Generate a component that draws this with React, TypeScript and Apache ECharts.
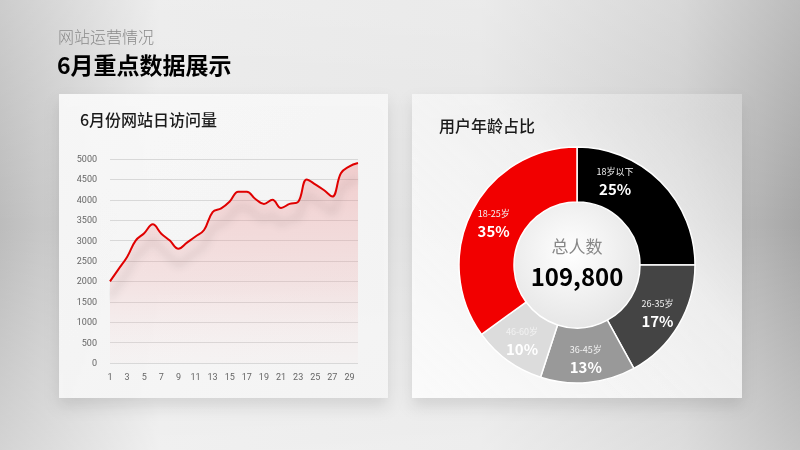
import React, { useEffect, useRef } from "react";
import * as echarts from "echarts";

const days = Array.from({ length: 30 }, (_, i) => String(i + 1));
const visits = [2000, 2300, 2600, 3000, 3180, 3400, 3170, 3000, 2800, 2950, 3100, 3260, 3700, 3790, 3960, 4200, 4200, 4020, 3900, 4000, 3800, 3900, 3950, 4500, 4380, 4240, 4080, 4650, 4820, 4900];
const yTicks = [0, 500, 1000, 1500, 2000, 2500, 3000, 3500, 4000, 4500, 5000];
const ageNames = ["18岁以下", "26-35岁", "36-45岁", "46-60岁", "18-25岁"];
const agePercents = [25, 17, 13, 10, 35];
const ageColors = ["#000000", "#444444", "#999999", "#dcdcdc", "#f20000"];
const totalUsers = "109,800";

const FONT = "'Noto Sans CJK SC', 'Noto Sans', sans-serif";

export default function App() {
  const ref = useRef<HTMLDivElement>(null);
  useEffect(() => {
    document.body.style.margin = "0";
    const chart = echarts.init(ref.current!, null, { renderer: "svg" });
    const option: any = {
      animation: false,
      textStyle: { fontFamily: FONT },
      graphic: [
        {
          type: "rect", z: -20, silent: true,
          shape: { x: 0, y: 0, width: 800, height: 450 },
          style: {
            fill: new echarts.graphic.LinearGradient(0, 0, 1, 0, [
              { offset: 0, color: "#bcbcbc" },
              { offset: 0.2, color: "#e8e8e8" },
              { offset: 0.6, color: "#e4e4e4" },
              { offset: 0.85, color: "#cbcbcb" },
              { offset: 1, color: "#a6a6a6" },
            ]),
          },
        },
        {
          type: "rect", z: -19, silent: true,
          shape: { x: 0, y: 0, width: 800, height: 450 },
          style: {
            fill: new echarts.graphic.LinearGradient(0, 0, 0, 1, [
              { offset: 0, color: "rgba(255,255,255,0.25)" },
              { offset: 0.5, color: "rgba(255,255,255,0)" },
              { offset: 1, color: "rgba(255,255,255,0.35)" },
            ]),
          },
        },
        {
          type: "rect", z: -10, silent: true,
          shape: { x: 59, y: 94, width: 329, height: 304 },
          style: {
            fill: new echarts.graphic.LinearGradient(0, 0, 1, 1, [
              { offset: 0, color: "rgba(250,250,250,0.92)" },
              { offset: 1, color: "rgba(245,245,245,0.92)" },
            ]),
            shadowBlur: 16, shadowOffsetY: 8, shadowColor: "rgba(0,0,0,0.12)",
          },
        },
        {
          type: "rect", z: -10, silent: true,
          shape: { x: 412, y: 94, width: 330, height: 304 },
          style: {
            fill: new echarts.graphic.LinearGradient(0, 1, 1, 0, [
              { offset: 0, color: "rgba(252,252,252,0.95)" },
              { offset: 0.6, color: "rgba(245,245,245,0.85)" },
              { offset: 1, color: "rgba(220,220,220,0.6)" },
            ]),
            shadowBlur: 16, shadowOffsetY: 8, shadowColor: "rgba(0,0,0,0.12)",
          },
        },
        {
          type: "circle", z: 1, silent: true,
          shape: { cx: 577, cy: 265, r: 63 },
          style: {
            fill: new echarts.graphic.RadialGradient(0.45, 0.4, 0.7, [
              { offset: 0, color: "#ffffff" },
              { offset: 1, color: "#e2e2e2" },
            ]),
          },
        },
        {
          type: "text", x: 58, y: 36,
          style: { text: "网站运营情况", font: `300 16px ${FONT}`, fill: "#8a8a8a", verticalAlign: "middle" },
        },
        {
          type: "text", x: 57, y: 64,
          style: { text: "6月重点数据展示", font: `bold 23px ${FONT}`, fill: "#000", verticalAlign: "middle" },
        },
        {
          type: "text", x: 80, y: 119,
          style: { text: "6月份网站日访问量", font: `500 16px ${FONT}`, fill: "#1a1a1a", verticalAlign: "middle" },
        },
        {
          type: "text", x: 439, y: 125,
          style: { text: "用户年龄占比", font: `500 16px ${FONT}`, fill: "#1a1a1a", verticalAlign: "middle" },
        },
        {
          type: "text", x: 577, y: 245, z: 3,
          style: { text: "总人数", font: `17px ${FONT}`, fill: "#888", align: "center", verticalAlign: "middle" },
        },
        {
          type: "text", x: 577, y: 275, z: 3,
          style: { text: totalUsers, font: `bold 24px ${FONT}`, fill: "#000", align: "center", verticalAlign: "middle" },
        },
      ],
      grid: { left: 110, right: 442, top: 159, bottom: 87, containLabel: false },
      xAxis: {
        type: "category",
        data: days,
        boundaryGap: false,
        axisLine: { show: false },
        axisTick: { show: false },
        axisLabel: { interval: 1, color: "#666", fontSize: 9, margin: 9, fontFamily: "Roboto" },
      },
      yAxis: {
        type: "value",
        min: 0, max: 5000, interval: 500,
        axisLabel: {
          color: "#666", fontSize: 9, margin: 13, fontFamily: "Roboto",
          formatter: (v: number) => (yTicks.includes(v) ? String(v) : ""),
        },
        splitLine: { lineStyle: { color: "#d8d8d8", width: 1 } },
      },
      series: [
        {
          type: "line",
          data: visits,
          smooth: 0.4,
          symbol: "none",
          z: 3,
          lineStyle: {
            color: "#e00000", width: 2,
            shadowColor: "rgba(0,0,0,0.22)", shadowBlur: 9, shadowOffsetY: 16,
          },
          areaStyle: {
            color: new echarts.graphic.LinearGradient(0, 0, 0, 1, [
              { offset: 0, color: "rgba(232,110,110,0.42)" },
              { offset: 0.6, color: "rgba(236,150,150,0.28)" },
              { offset: 1, color: "rgba(245,210,210,0.1)" },
            ]),
          },
        },
        {
          type: "pie",
          center: [577, 265],
          radius: [63, 118],
          startAngle: 90,
          clockwise: true,
          z: 2,
          itemStyle: { borderColor: "#ffffff", borderWidth: 1.5 },
          label: {
            position: "inside",
            formatter: (p: any) => `{n|${p.name}}\n{p|${p.value}%}`,
            rich: {
              n: { fontSize: 9, color: "#f2f2f2", lineHeight: 16, fontFamily: FONT },
              p: { fontSize: 15, fontWeight: "bold", color: "#ffffff", lineHeight: 18, fontFamily: FONT },
            },
          },
          labelLine: { show: false },
          data: ageNames.map((n, i) => ({
            name: n,
            value: agePercents[i],
            itemStyle: { color: ageColors[i] },
            label: i === 0 ? { offset: [-28, -18] } : undefined,
          })),
        },
      ],
    };
    chart.setOption(option);
    return () => chart.dispose();
  }, []);
  return <div ref={ref} style={{ position: "fixed", left: 0, top: 0, width: 800, height: 450 }} />;
}
